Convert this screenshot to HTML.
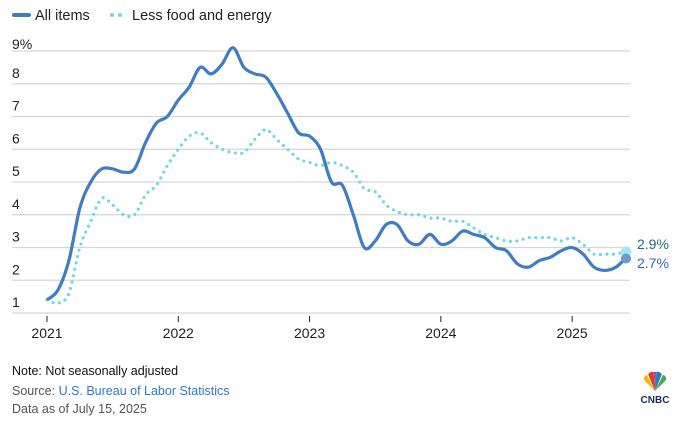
<!DOCTYPE html>
<html><head><meta charset="utf-8"><style>
body{margin:0;background:#fff;font-family:"Liberation Sans",sans-serif;}
svg text{font-family:"Liberation Sans",sans-serif;}
</style></head><body>
<svg id="s" width="690" height="420" xmlns="http://www.w3.org/2000/svg">
<rect width="690" height="420" fill="#fff"/>
<line x1="14" y1="15" x2="29" y2="15" stroke="#3f7cc4" stroke-width="4" stroke-linecap="round"/>
<text x="35" y="20" font-size="14.5" fill="#222">All items</text>
<circle cx="112" cy="15" r="2" fill="#6fd8e6"/><circle cx="120" cy="15" r="2" fill="#6fd8e6"/>
<text x="132" y="20" font-size="14.5" fill="#222">Less food and energy</text>
<text x="12" y="49" font-size="14" fill="#222">9%</text>
<g id="grid" stroke="#d6d6d6" stroke-width="1.3"></g>
<g id="yl" font-size="14" fill="#222"></g>
<g id="xt" stroke="#222" stroke-width="1"></g>
<g id="xl" font-size="14" fill="#222" text-anchor="middle"></g>
<path id="core" fill="none" stroke="#6fd8e6" stroke-width="3.2" stroke-linecap="round" stroke-dasharray="0 6.5"/>
<path id="all" fill="none" stroke="#3f7cc4" stroke-width="3.2" stroke-linejoin="round"/>
<circle cx="626" cy="252" r="5.5" fill="#a8e6f0"/>
<circle cx="626" cy="258.5" r="5" fill="#6f96d6"/>
<text x="637" y="249" font-size="14" fill="#1d6f78">2.9%</text>
<text x="637" y="268" font-size="14" fill="#2f6cb8">2.7%</text>
<text x="12" y="375" font-size="12.5" fill="#111">Note: Not seasonally adjusted</text>
<text x="12" y="395" font-size="12.5" fill="#555">Source: <tspan fill="#2f78c8">U.S. Bureau of Labor Statistics</tspan></text>
<text x="12" y="413" font-size="12.5" fill="#555">Data as of July 15, 2025</text>
<g transform="translate(655,391) scale(1.35)">
<path d="M0,0 L-8,-8 A3,3 0 0 1 -6,-12 Z" fill="#f7b500"/>
<path d="M0,0 L-5,-12 A3,3 0 0 1 -1,-14 Z" fill="#e63a24"/>
<path d="M0,0 L-1,-14 A2,2 0 0 1 1,-14 Z" fill="#8a5aa8"/>
<path d="M0,0 L1,-14 A3,3 0 0 1 5,-12 Z" fill="#2e7ac4"/>
<path d="M0,0 L6,-12 A3,3 0 0 1 8,-8 Z" fill="#49a942"/>
</g>
<text x="655" y="403" font-size="10" font-weight="bold" fill="#1a2a5a" text-anchor="middle">CNBC</text>
</svg>
<script>
var Y=v=>313-(v-1)*32.75, X=i=>47+i*10.94;
var g=document.getElementById('grid'),yl=document.getElementById('yl'),ns='http://www.w3.org/2000/svg';
function el(p,t,a){var e=document.createElementNS(ns,t);for(var k in a)e.setAttribute(k,a[k]);p.appendChild(e);return e;}
for(var v=1;v<=9;v++){el(g,'line',{x1:12,x2:630,y1:Y(v),y2:Y(v)});if(v<9){var t=el(yl,'text',{x:12,y:Y(v)-6});t.textContent=v;}}
var yrs=[2021,2022,2023,2024,2025];
yrs.forEach((y,i)=>{var x=X(i*12);el(document.getElementById('xt'),'line',{x1:x,x2:x,y1:316,y2:322});var t=el(document.getElementById('xl'),'text',{x:x,y:338});t.textContent=y;});
var A=[1.4,1.7,2.6,4.2,5.0,5.4,5.4,5.3,5.4,6.2,6.8,7.0,7.5,7.9,8.5,8.3,8.6,9.1,8.5,8.3,8.2,7.7,7.1,6.5,6.4,6.0,5.0,4.9,4.0,3.0,3.2,3.7,3.7,3.2,3.1,3.4,3.1,3.2,3.5,3.4,3.3,3.0,2.9,2.5,2.4,2.6,2.7,2.9,3.0,2.8,2.4,2.3,2.4,2.7];
var C=[1.4,1.3,1.6,3.0,3.8,4.5,4.3,4.0,4.0,4.6,4.9,5.5,6.0,6.4,6.5,6.2,6.0,5.9,5.9,6.3,6.6,6.3,6.0,5.7,5.6,5.5,5.6,5.5,5.3,4.8,4.7,4.3,4.1,4.0,4.0,3.9,3.9,3.8,3.8,3.6,3.4,3.3,3.2,3.2,3.3,3.3,3.3,3.2,3.3,3.1,2.8,2.8,2.8,2.9];
function path(d){var p=d.map((v,i)=>[X(i),Y(v)]);var s='M'+p[0];for(var i=0;i<p.length-1;i++){var a=p[Math.max(i-1,0)],b=p[i],c=p[i+1],e=p[Math.min(i+2,p.length-1)];var c1=[b[0]+(c[0]-a[0])/6,b[1]+(c[1]-a[1])/6],c2=[c[0]-(e[0]-b[0])/6,c[1]-(e[1]-b[1])/6];s+='C'+c1+' '+c2+' '+c;}return s;}
document.getElementById('all').setAttribute('d',path(A));
document.getElementById('core').setAttribute('d',path(C));
</script>
</body></html>
